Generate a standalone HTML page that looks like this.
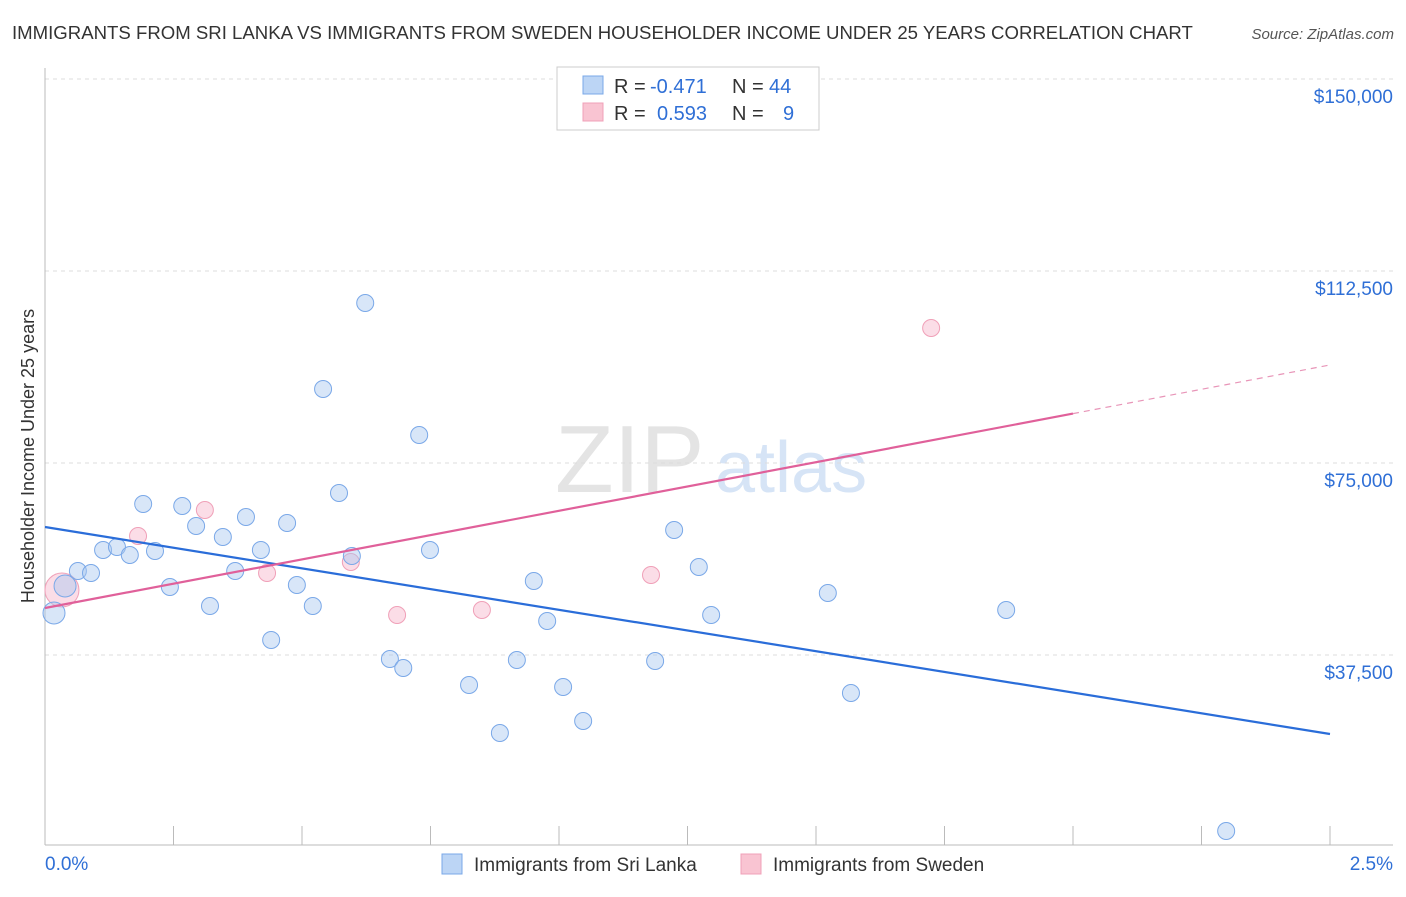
<!DOCTYPE html>
<html><head><meta charset="utf-8"><style>
body{margin:0;background:#fff;font-family:"Liberation Sans",Arial,sans-serif}
svg text{font-family:"Liberation Sans",Arial,sans-serif}
</style></head><body>
<svg id="c" width="1406" height="892" xmlns="http://www.w3.org/2000/svg">
<text x="12" y="39" font-size="18.6" fill="#333">IMMIGRANTS FROM SRI LANKA VS IMMIGRANTS FROM SWEDEN HOUSEHOLDER INCOME UNDER 25 YEARS CORRELATION CHART</text>
<text x="1394" y="39" font-size="15" fill="#555" text-anchor="end" font-style="italic">Source: ZipAtlas.com</text>
<text x="555" y="492" font-size="96" fill="#e4e4e4" font-family="Liberation Serif">ZIP</text>
<text x="715" y="492" font-size="72" fill="#d6e4f6">atlas</text>
<text transform="translate(34,456) rotate(-90)" font-size="18" fill="#333" text-anchor="middle">Householder Income Under 25 years</text>
<g id="grid"></g><g id="marks"></g>
<g>
<rect x="557" y="67" width="262" height="63" fill="#fff" stroke="#ccc"/>
<rect x="583" y="76" width="20" height="18" fill="#bcd5f5" stroke="#7aa8e8"/>
<rect x="583" y="103" width="20" height="18" fill="#f9c4d2" stroke="#f0a0b8"/>
<text x="614" y="93" font-size="20" fill="#333">R =</text>
<text x="650" y="93" font-size="20" fill="#2f6fd6">-0.471</text>
<text x="732" y="93" font-size="20" fill="#333">N =</text>
<text x="769" y="93" font-size="20" fill="#2f6fd6">44</text>
<text x="614" y="120" font-size="20" fill="#333">R =</text>
<text x="657" y="120" font-size="20" fill="#2f6fd6">0.593</text>
<text x="732" y="120" font-size="20" fill="#333">N =</text>
<text x="783" y="120" font-size="20" fill="#2f6fd6">9</text>
</g>
<g>
<rect x="442" y="854" width="20" height="20" fill="#bcd5f5" stroke="#7aa8e8"/>
<text x="474" y="871" font-size="19" fill="#333">Immigrants from Sri Lanka</text>
<rect x="741" y="854" width="20" height="20" fill="#f9c4d2" stroke="#f0a0b8"/>
<text x="773" y="871" font-size="19" fill="#333">Immigrants from Sweden</text>
</g>
</svg>
<script>
const yTicks=[37500,75000,112500,150000];
const yTickLabels=["$37,500","$75,000","$112,500","$150,000"];
const xTicks=[0,0.25,0.5,0.75,1,1.25,1.5,1.75,2,2.25,2.5];
const blueX=[0.0175,0.039,0.064,0.0895,0.113,0.140,0.165,0.191,0.214,0.243,0.267,0.294,0.321,0.346,0.370,0.391,0.420,0.440,0.471,0.490,0.521,0.541,0.572,0.597,0.623,0.671,0.697,0.728,0.749,0.825,0.885,0.918,0.951,0.977,1.008,1.047,1.187,1.224,1.272,1.296,1.523,1.568,1.870,2.298];
const blueY=[45703,50977,53906,53516,58008,58594,57031,66992,57813,50781,66602,62695,47070,60547,53906,64453,58008,40430,63281,51172,47070,89453,69141,56836,106250,36719,34961,80469,58008,31641,22266,36523,51953,44141,31250,24609,36328,61914,54688,45313,49609,30078,46289,3125];
const pinkX=[0.033,0.181,0.311,0.432,0.595,0.685,0.850,1.179,1.724];
const pinkY=[50195,60742,65820,53516,55664,45313,46289,53125,101367];
const blueTrend=[62500,22070];
const pinkTrend=[46680,94141];
const pinkSolidEnd=2.0;
const X=v=>45+v*514, Y=v=>847-v/195.3125;
const NS="http://www.w3.org/2000/svg";
const grid=document.getElementById('grid'),marks=document.getElementById('marks');
function mk(p,tag,a){const e=document.createElementNS(NS,tag);for(const k in a)e.setAttribute(k,a[k]);p.appendChild(e);return e;}
let l=mk(grid,'line',{x1:45,y1:79,x2:1393,y2:79,stroke:'#ddd','stroke-dasharray':'4 4'});


yTicks.forEach((t,i)=>{
 const g=mk(grid,'line',{x1:45,y1:Y(t),x2:1393,y2:Y(t),stroke:'#ddd','stroke-dasharray':'4 4'});
 
 
 const tx=mk(grid,'text',{x:1393,y:Y(t)+24,'font-size':19,fill:'#2f6fd6','text-anchor':'end'});
 tx.textContent=yTickLabels[i];
 
 
});
let ax=mk(grid,'line',{x1:45,y1:68,x2:45,y2:845,stroke:'#bbb'});


let bx=mk(grid,'line',{x1:45,y1:845,x2:1393,y2:845,stroke:'#bbb'});


xTicks.forEach(t=>{const k=mk(grid,'line',{x1:X(t),y1:826,x2:X(t),y2:845,stroke:'#bbb'});
 
 });
let x0=mk(grid,'text',{x:45,y:870,'font-size':19,fill:'#2f6fd6'});x0.textContent='0.0%';


let x1=mk(grid,'text',{x:1393,y:870,'font-size':19,fill:'#2f6fd6','text-anchor':'end'});x1.textContent='2.5%';


pinkX.forEach((v,i)=>{const c=mk(marks,'circle',{cx:X(v),cy:Y(pinkY[i]),r:i==0?17:8.5,fill:'rgba(245,170,195,0.4)',stroke:'#f0a0b8','stroke-width':1});
 
 });
blueX.forEach((v,i)=>{const c=mk(marks,'circle',{cx:X(v),cy:Y(blueY[i]),r:(i<2)?11:8.5,fill:'rgba(168,200,240,0.45)',stroke:'#7aa8e8','stroke-width':1});
 
 });
let bt=mk(marks,'line',{x1:X(0),y1:Y(blueTrend[0]),x2:X(2.5),y2:Y(blueTrend[1]),stroke:'#2a6dd9','stroke-width':2.2});


const pAt=x=>pinkTrend[0]+(pinkTrend[1]-pinkTrend[0])*x/2.5;
let pt=mk(marks,'line',{x1:X(0),y1:Y(pAt(0)),x2:X(pinkSolidEnd),y2:Y(pAt(pinkSolidEnd)),stroke:'#e0609a','stroke-width':2.2});


let pd=mk(marks,'line',{x1:X(pinkSolidEnd),y1:Y(pAt(pinkSolidEnd)),x2:X(2.5),y2:Y(pAt(2.5)),stroke:'#e895b8','stroke-width':1.2,'stroke-dasharray':'6 5'});


</script>
</body></html>
